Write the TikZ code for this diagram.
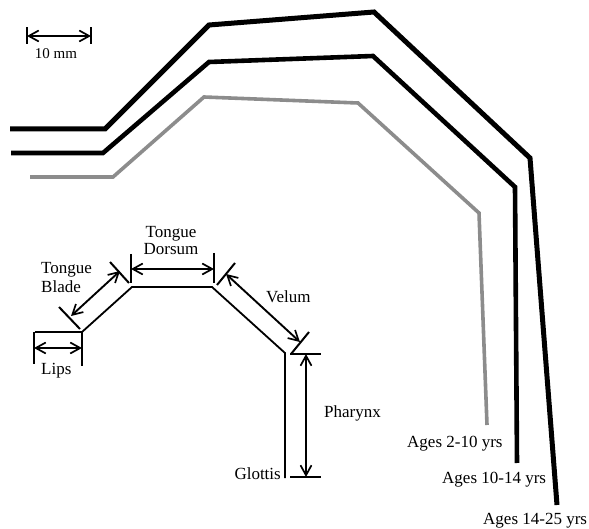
\documentclass[tikz,border=0pt]{standalone}
\usepackage{fontspec}
\setmainfont{Liberation Serif}
\usetikzlibrary{arrows.meta}
\begin{document}
\begin{tikzpicture}[x=1pt,y=-1pt,
  tract/.style={line width=5pt, line join=miter},
  midtract/.style={line width=4.6pt, line join=miter},
  childtract/.style={line width=3.6pt, black!45, line join=miter},
  schem/.style={line width=1.8pt},
  tickmark/.style={line width=2pt},
  dimarrow/.style={line width=1.9pt,
    {Straight Barb[length=10pt,width=11pt,line width=1.7pt]}-{Straight Barb[length=10pt,width=11pt,line width=1.7pt]}},
  lbl/.style={font=\fontsize{17}{17}\selectfont, inner sep=0pt},
  smalllbl/.style={font=\fontsize{15}{15}\selectfont, inner sep=0pt},
]
\useasboundingbox (0,0) rectangle (589,529);

% ---- scale bar ----
\coordinate (sbL) at (27,36);
\coordinate (sbR) at (91,36);
\draw[tickmark] ([yshift=-8pt]sbL) -- ([yshift=9pt]sbL);
\draw[tickmark] ([yshift=-8pt]sbR) -- ([yshift=9pt]sbR);
\draw[dimarrow] (sbL) -- (sbR);
\node[smalllbl, anchor=base] (scale) at (56,59) {10 mm};

% ---- tract outlines ----
\coordinate (o1) at (10,129);  \coordinate (o2) at (105,129);
\coordinate (o3) at (209,25);  \coordinate (o4) at (374,12);
\coordinate (o5) at (530,158); \coordinate (o6) at (557,505);
\draw[tract] (o1) -- (o2) -- (o3) -- (o4) -- (o5) -- (o6);

\coordinate (m1) at (11,153);  \coordinate (m2) at (103,153);
\coordinate (m3) at (209,62);  \coordinate (m4) at (373,56);
\coordinate (m5) at (515,187); \coordinate (m6) at (517,463);
\draw[midtract] (m1) -- (m2) -- (m3) -- (m4) -- (m5) -- (m6);

\coordinate (g1) at (30,177);  \coordinate (g2) at (113,177);
\coordinate (g3) at (204,97);  \coordinate (g4) at (358,103);
\coordinate (g5) at (479,213); \coordinate (g6) at (487,425);
\draw[childtract] (g1) -- (g2) -- (g3) -- (g4) -- (g5) -- (g6);

\node[lbl, anchor=base west] (age1) at (407,447) {Ages 2-10 yrs};
\node[lbl, anchor=base west] (age2) at (442,483) {Ages 10-14 yrs};
\node[lbl, anchor=base west] (age3) at (483,524) {Ages 14-25 yrs};

% ---- schematic tract ----
\coordinate (lipA) at (35,332);
\coordinate (lipB) at (82,332);
\coordinate (dorA) at (132,287);
\coordinate (dorB) at (212,287);
\coordinate (pha)  at (285,353);
\coordinate (glo)  at (285,478);
\draw[schem] (lipA) -- (lipB) -- (dorA) -- (dorB) -- (pha) -- (glo);

% lips
\draw[tickmark] (34,332) -- (34,364);
\draw[tickmark] (82,332) -- (82,366);
\coordinate (lipL) at (34,348);
\coordinate (lipR) at (82,348);
\draw[dimarrow] (lipL) -- (lipR);
\node[lbl, anchor=base west] (lips) at (41,374) {Lips};

% tongue blade
\draw[tickmark] (59,307) -- (80,329);
\draw[tickmark] (110,262) -- (129,283);
\coordinate (blA) at (71,316);
\coordinate (blB) at (120,271);
\draw[dimarrow] (blA) -- (blB);
\node[lbl, anchor=base west] (bladeA) at (41,274) {Tongue};
\node[lbl, anchor=base west] (bladeB) at (41,293) {Blade};

% tongue dorsum
\draw[tickmark] (131,254) -- (131,283);
\draw[tickmark] (214,253) -- (214,283);
\coordinate (doL) at (131,269);
\coordinate (doR) at (214,269);
\draw[dimarrow] (doL) -- (doR);
\node[lbl, anchor=base] (dorsumA) at (171,238) {Tongue};
\node[lbl, anchor=base] (dorsumB) at (171,255) {Dorsum};

% velum
\draw[tickmark] (217,285) -- (235,263);
\draw[tickmark] (291,354) -- (309,332);
\coordinate (veA) at (226,274);
\coordinate (veB) at (300,342);
\draw[dimarrow] (veA) -- (veB);
\node[lbl, anchor=base west] (velum) at (266,302) {Velum};

% pharynx
\draw[tickmark] (290,354) -- (321,354);
\draw[tickmark] (290,477) -- (321,477);
\coordinate (phT) at (306,354);
\coordinate (phB) at (306,477);
\draw[dimarrow] (phT) -- (phB);
\node[lbl, anchor=base west] (pharynx) at (324,417) {Pharynx};
\node[lbl, anchor=base east] (glottis) at (281,479) {Glottis};
\end{tikzpicture}
\end{document}
